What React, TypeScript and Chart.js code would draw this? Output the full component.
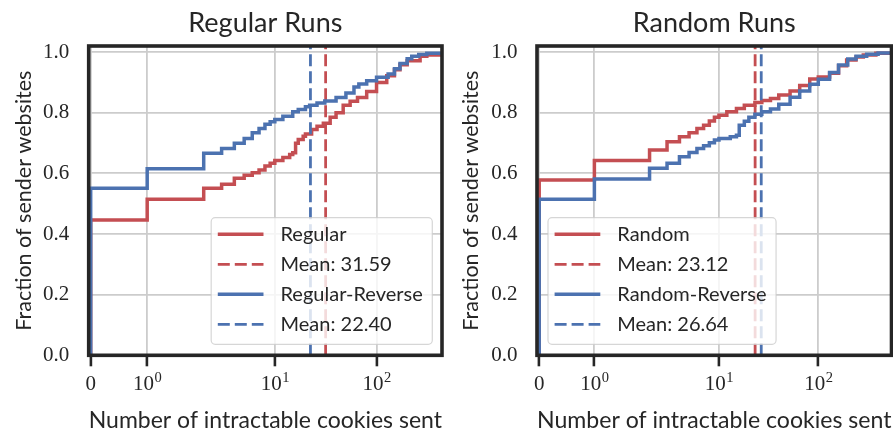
import React, { useEffect, useRef } from 'react';
import { Chart, registerables, Scale } from 'chart.js';

Chart.register(...registerables);

// ---------- data ----------
const X_TICKS = [0, 1, 10, 100];
const X_TICK_LABELS = ['0', '10^0', '10^1', '10^2'];
const Y_TICKS = [0, 0.2, 0.4, 0.6, 0.8, 1.0];
const Y_MAX = 1.02;

const regularCounts = [0, 0, 1, 2, 3, 4, 5, 6, 7, 8, 9, 10, 12, 14, 15, 16, 17, 19, 20, 23, 26, 30, 35, 40, 47, 55, 65, 80, 100, 126, 150, 170, 200, 268, 312, 440];
const regularCdf = [0, 0.446, 0.515, 0.551, 0.564, 0.584, 0.594, 0.602, 0.611, 0.624, 0.633, 0.642, 0.652, 0.662, 0.668, 0.699, 0.712, 0.722, 0.730, 0.745, 0.755, 0.765, 0.785, 0.800, 0.825, 0.838, 0.850, 0.870, 0.900, 0.922, 0.942, 0.958, 0.971, 0.986, 0.990, 1.0];
const regularMean = 31.59;

const regularReverseCounts = [0, 0, 1, 2, 3, 4, 5, 6, 7, 8, 9, 10, 12, 15, 17, 20, 22, 26, 31, 40, 50, 60, 67, 80, 100, 130, 150, 170, 200, 222, 260, 312, 440];
const regularReverseCdf = [0, 0.551, 0.615, 0.666, 0.682, 0.699, 0.715, 0.734, 0.748, 0.762, 0.770, 0.778, 0.788, 0.803, 0.811, 0.820, 0.825, 0.832, 0.839, 0.850, 0.865, 0.885, 0.895, 0.905, 0.917, 0.928, 0.945, 0.962, 0.978, 0.986, 0.992, 0.996, 1.0];
const regularReverseMean = 22.4;

const randomCounts = [0, 0, 1, 2, 3, 4, 5, 6, 7, 8, 9, 10, 12, 15, 18, 23, 27, 33, 40, 52, 65, 82, 100, 130, 160, 193, 240, 284, 380, 546];
const randomCdf = [0, 0.578, 0.642, 0.677, 0.704, 0.721, 0.734, 0.748, 0.759, 0.773, 0.785, 0.792, 0.803, 0.814, 0.825, 0.834, 0.840, 0.847, 0.858, 0.872, 0.890, 0.911, 0.918, 0.930, 0.955, 0.974, 0.984, 0.990, 0.996, 1.0];
const randomMean = 23.12;

const randomReverseCounts = [0, 0, 1, 2, 3, 4, 5, 6, 7, 8, 9, 10, 13, 15, 16, 18, 20, 23, 27, 33, 40, 52, 65, 82, 100, 130, 160, 198, 240, 307, 400, 546];
const randomReverseCdf = [0, 0.515, 0.581, 0.617, 0.633, 0.655, 0.669, 0.682, 0.691, 0.701, 0.710, 0.715, 0.721, 0.726, 0.759, 0.772, 0.785, 0.795, 0.803, 0.812, 0.828, 0.851, 0.872, 0.894, 0.910, 0.933, 0.957, 0.977, 0.986, 0.993, 0.997, 1.0];
const randomReverseMean = 26.64;

// ---------- style ----------
const RED = '#C44E52';
const BLUE = '#4C72B0';
const TEXT = '#262626';
const GRID = '#cccccc';
const SANS = 'Lato, "DejaVu Sans", sans-serif';
const SERIF = '"Liberation Serif", "DejaVu Serif", serif';
const X_TITLE = 'Number of intractable cookies sent';
const Y_TITLE = 'Fraction of sender websites';

// ---------- symlog scale (linthresh 2, linscale 1, base 10) ----------
const LINTHRESH = 2;
const LINSCALE = 1;
const LIN_ADJ = LINSCALE / (1 - 1 / 10);
function symlog(v: number) {
  const a = Math.abs(v);
  if (a <= LINTHRESH) return v * LIN_ADJ;
  return Math.sign(v) * LINTHRESH * (LIN_ADJ + Math.log10(a / LINTHRESH));
}
function invSymlog(t: number) {
  const a = Math.abs(t);
  if (a <= LINTHRESH * LIN_ADJ) return t / LIN_ADJ;
  return Math.sign(t) * LINTHRESH * Math.pow(10, a / LINTHRESH - LIN_ADJ);
}

class SymlogScale extends Scale {
  static id = 'symlog';
  static defaults = {};
  _tmin = 0;
  _trange = 1;
  determineDataLimits() {
    const { min, max } = (this as any).getMinMax(true);
    (this as any).min = min;
    (this as any).max = max;
  }
  buildTicks() {
    return X_TICKS.map((v) => ({ value: v }));
  }
  configure() {
    super.configure();
    this._tmin = symlog((this as any).min);
    this._trange = symlog((this as any).max) - this._tmin || 1;
  }
  getPixelForValue(v: number) {
    return (this as any).getPixelForDecimal((symlog(v) - this._tmin) / this._trange);
  }
  getValueForPixel(p: number) {
    return invSymlog(this._tmin + (this as any).getDecimalForPixel(p) * this._trange);
  }
  getLabelForValue(v: number) {
    return String(v);
  }
}
Chart.register(SymlogScale as any);

// ---------- plugins ----------
const framePlugin = {
  id: 'frame',
  afterDatasetsDraw(chart: any) {
    const { ctx, chartArea: a } = chart;
    ctx.save();
    ctx.strokeStyle = TEXT;
    ctx.lineWidth = 3.6;
    ctx.strokeRect(a.left, a.top, a.right - a.left, a.bottom - a.top);
    ctx.restore();
  },
};

// x tick labels with real superscript exponents (base^exp)
const xTickLabelPlugin = {
  id: 'xTickLabels',
  afterDraw(chart: any) {
    const scale = chart.scales.x;
    const { ctx, chartArea } = chart;
    const baseY = chartArea.bottom + 34.7;
    ctx.save();
    ctx.fillStyle = TEXT;
    ctx.textBaseline = 'alphabetic';
    ctx.textAlign = 'left';
    scale.ticks.forEach((t: any) => {
      const label = X_TICK_LABELS[X_TICKS.indexOf(t.value)];
      if (label === undefined) return;
      const [base, exp] = label.split('^');
      ctx.font = `21px ${SERIF}`;
      const bw = ctx.measureText(base).width;
      let ew = 0;
      if (exp) {
        ctx.font = `14.5px ${SERIF}`;
        ew = ctx.measureText(exp).width;
      }
      const x = scale.getPixelForValue(t.value) - (bw + ew) / 2;
      ctx.font = `21px ${SERIF}`;
      ctx.fillText(base, x, baseY);
      if (exp) {
        ctx.font = `14.5px ${SERIF}`;
        ctx.fillText(exp, x + bw + 0.5, baseY - 7.8);
      }
    });
    ctx.restore();
  },
};

const legendPlugin = {
  id: 'insetLegend',
  afterDraw(chart: any, _args: any, opts: any) {
    const { ctx, chartArea: a } = chart;
    const items = chart.data.datasets.map((ds: any) => ({
      label: ds.label,
      color: ds.borderColor,
      dash: ds.borderDash || [],
      width: ds.borderWidth,
    }));
    ctx.save();
    ctx.font = `20px ${SANS}`;
    const textW = Math.max(...items.map((it: any) => ctx.measureText(it.label).width));
    const padL = 6.6, lineLen = 45.7, gap = 17, padR = 9.6, rowH = 30, padT = 16.6, padB = 20;
    const boxW = padL + lineLen + gap + textW + padR;
    const boxH = padT + rowH * (items.length - 1) + padB;
    const x0 = opts.side === 'right' ? a.right - 9.7 - boxW : a.left + 11;
    const y0 = a.bottom - 11 - boxH;
    const r = 4;
    ctx.beginPath();
    ctx.moveTo(x0 + r, y0);
    ctx.arcTo(x0 + boxW, y0, x0 + boxW, y0 + boxH, r);
    ctx.arcTo(x0 + boxW, y0 + boxH, x0, y0 + boxH, r);
    ctx.arcTo(x0, y0 + boxH, x0, y0, r);
    ctx.arcTo(x0, y0, x0 + boxW, y0, r);
    ctx.closePath();
    ctx.fillStyle = 'rgba(255,255,255,0.8)';
    ctx.fill();
    ctx.strokeStyle = 'rgba(204,204,204,0.8)';
    ctx.lineWidth = 1.2;
    ctx.stroke();
    items.forEach((it: any, i: number) => {
      const y = y0 + padT + i * rowH;
      ctx.beginPath();
      ctx.setLineDash(it.dash);
      ctx.strokeStyle = it.color;
      ctx.lineWidth = it.width;
      ctx.moveTo(x0 + padL, y);
      ctx.lineTo(x0 + padL + lineLen, y);
      ctx.stroke();
      ctx.setLineDash([]);
      ctx.fillStyle = TEXT;
      ctx.textBaseline = 'middle';
      ctx.textAlign = 'left';
      ctx.fillText(it.label, x0 + padL + lineLen + gap, y);
    });
    ctx.restore();
  },
};

// ---------- chart factory ----------
type SeriesCfg = { label: string; counts: number[]; cdf: number[]; mean: number; color: string };
type PanelCfg = {
  title: string;
  series: SeriesCfg[];
  xMin: number;
  xMax: number;
  yAxisWidth: number;
  padRight: number;
  yTitlePad: number;
  legendSide: 'left' | 'right';
};

function makeChart(canvas: HTMLCanvasElement, cfg: PanelCfg) {
  const datasets: any[] = [];
  cfg.series.forEach((s) => {
    datasets.push({
      label: s.label,
      data: s.counts.map((x, i) => ({ x, y: s.cdf[i] })),
      borderColor: s.color,
      backgroundColor: s.color,
      borderWidth: 3.5,
      stepped: 'before',
      pointRadius: 0,
      fill: false,
    });
    datasets.push({
      label: `Mean: ${s.mean.toFixed(2)}`,
      data: [
        { x: s.mean, y: 0 },
        { x: s.mean, y: Y_MAX },
      ],
      borderColor: s.color,
      backgroundColor: s.color,
      borderWidth: 2.8,
      borderDash: [12, 5],
      pointRadius: 0,
      fill: false,
    });
  });
  // later datasets are drawn on top (as in the original figure)
  datasets.forEach((ds, i) => {
    ds.order = datasets.length - i;
  });

  return new Chart(canvas, {
    type: 'line',
    data: { datasets },
    options: {
      responsive: false,
      animation: false,
      events: [],
      layout: { padding: { left: 0, right: cfg.padRight, top: 0, bottom: 0 } },
      plugins: {
        legend: { display: false },
        tooltip: { enabled: false },
        title: {
          display: true,
          text: cfg.title,
          fullSize: false,
          color: TEXT,
          font: { family: SANS, size: 27, weight: 'normal', lineHeight: 1.2 },
          padding: { top: 6.7, bottom: 6.9 },
        },
        insetLegend: { side: cfg.legendSide },
      } as any,
      scales: {
        x: {
          type: 'symlog' as any,
          position: 'bottom',
          min: cfg.xMin,
          max: cfg.xMax,
          afterFit: (s: any) => {
            s.height = 76.7;
          },
          grid: { color: GRID, lineWidth: 1.8, drawTicks: true, tickLength: 11, tickColor: TEXT, tickWidth: 2.6 },
          border: { display: false },
          ticks: { display: false, autoSkip: false, maxRotation: 0, minRotation: 0 },
          title: {
            display: true,
            text: X_TITLE,
            color: TEXT,
            font: { family: SANS, size: 23.6, lineHeight: 1 },
            padding: { top: 0, bottom: 0 },
          },
        } as any,
        y: {
          type: 'linear',
          position: 'left',
          min: 0,
          max: Y_MAX,
          afterFit: (s: any) => {
            s.width = cfg.yAxisWidth;
          },
          afterBuildTicks: (s: any) => {
            s.ticks = Y_TICKS.map((v) => ({ value: v }));
          },
          grid: { color: GRID, lineWidth: 1.8, drawTicks: false },
          border: { display: false },
          ticks: {
            padding: 19.5,
            color: TEXT,
            font: { family: SERIF, size: 21 },
            callback: (v: any) => Number(v).toFixed(1),
          },
          title: {
            display: true,
            text: Y_TITLE,
            color: TEXT,
            font: { family: SANS, size: 21.5, lineHeight: 1.2 },
            padding: { top: cfg.yTitlePad, bottom: 0 },
          },
        } as any,
      },
    },
    plugins: [framePlugin, xTickLabelPlugin, legendPlugin],
  } as any);
}

const leftPanel: PanelCfg = {
  title: 'Regular Runs',
  series: [
    { label: 'Regular', counts: regularCounts, cdf: regularCdf, mean: regularMean, color: RED },
    { label: 'Regular-Reverse', counts: regularReverseCounts, cdf: regularReverseCdf, mean: regularReverseMean, color: BLUE },
  ],
  xMin: -0.035,
  xMax: 440,
  yAxisWidth: 88.7,
  padRight: 4,
  yTitlePad: 10.8,
  legendSide: 'right',
};

const rightPanel: PanelCfg = {
  title: 'Random Runs',
  series: [
    { label: 'Random', counts: randomCounts, cdf: randomCdf, mean: randomMean, color: RED },
    { label: 'Random-Reverse', counts: randomReverseCounts, cdf: randomReverseCdf, mean: randomReverseMean, color: BLUE },
  ],
  xMin: -0.04,
  xMax: 546,
  yAxisWidth: 91,
  padRight: 14.5,
  yTitlePad: 12.5,
  legendSide: 'left',
};

export default function App() {
  const leftRef = useRef<HTMLCanvasElement>(null);
  const rightRef = useRef<HTMLCanvasElement>(null);
  useEffect(() => {
    const charts: Chart[] = [];
    if (leftRef.current) charts.push(makeChart(leftRef.current, leftPanel));
    if (rightRef.current) charts.push(makeChart(rightRef.current, rightPanel));
    return () => charts.forEach((c) => c.destroy());
  }, []);
  return (
    <div style={{ position: 'fixed', left: 0, top: 0, width: 893, height: 432, overflow: 'hidden', background: '#fff' }}>
      <canvas ref={leftRef} width={446} height={432} style={{ position: 'absolute', left: 0, top: 0 }} />
      <canvas ref={rightRef} width={460} height={432} style={{ position: 'absolute', left: 446, top: 0 }} />
    </div>
  );
}
